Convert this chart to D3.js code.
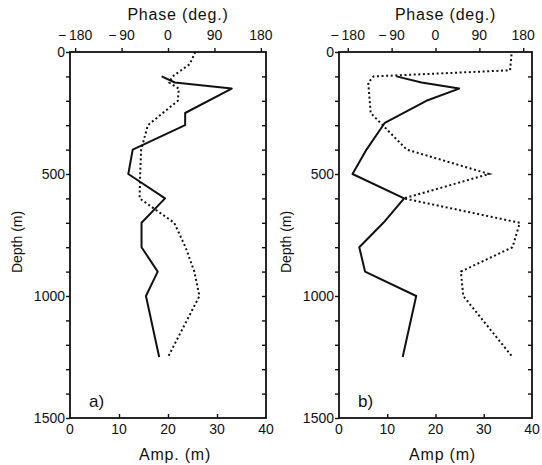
<!DOCTYPE html>
<html>
<head>
<meta charset="utf-8">
<script src="https://cdn.jsdelivr.net/npm/d3@7"></script>
<style>
    body { margin: 0; background: #fff; }
    text { font-family: "Liberation Sans", Arial, sans-serif; fill: #111; }
</style>
</head>
<body>
<div id="chart"></div>
<script>
// Depth levels (m) and values
// Panel a
var aAmpDepth = [100, 125, 150, 250, 300, 400, 500, 600, 700, 800, 900, 1000, 1250];
var aAmp = [18.7, 21.4, 33, 23.5, 23.5, 12.8, 11.9, 19.4, 14.6, 14.6, 17.9, 15.5, 18.2];
var aPhsDepth = [0, 50, 100, 125, 150, 200, 300, 400, 500, 600, 700, 800, 900, 1000, 1250];
var aPhs = [53, 42, 9, 2, 21, 19, -39, -52, -54, -55, 12, 34, 51, 61, 0];

// Panel b
var bAmpDepth = [100, 125, 150, 200, 290, 400, 500, 600, 700, 800, 900, 1000, 1250];
var bAmp = [11.9, 17.1, 24.9, 18.1, 9.5, 5.7, 2.8, 13.5, 9.2, 4.2, 5.4, 16, 13.2];
var bPhsDepth = [10, 75, 100, 125, 250, 400, 500, 600, 700, 800, 900, 1000, 1250];
var bPhs = [156, 153, -127, -138, -133, -59, 110, -65, 173, 158, 52, 57, 158];

// Tick values
var depthTicks = [0, 500, 1000, 1500];
var ampTicks = [0, 10, 20, 30, 40];
var phsTicks = [-180, -90, 0, 90, 180];

// Set up SVG
var svgWdt = 542;
var svgHgt = 465;

var svg = d3.select("#chart").append("svg")
    .attr("width", svgWdt)
    .attr("height", svgHgt);

// Shared depth scale
var yScale = d3.scaleLinear().domain([0, 1500]).range([52, 418]);

// Minus sign with a little gap, like the original lettering
function phsFmt(d) {
    return d < 0 ? "\u2212" + "\u2009" + Math.abs(d) : "" + d;
}

function drawPanel(p) {
    var xAmp = d3.scaleLinear().domain([0, 40]).range([p.left, p.right]);
    var xPhs = d3.scaleLinear().domain([-p.phsMax, p.phsMax]).range([p.left, p.right]);

    var grp = svg.append("g");

    // Minor depth ticks every 100 m
    var minor = d3.range(0, 1501, 100);

    // Left axis (ticks outward)
    grp.append("g")
        .attr("transform", `translate(${p.left}, 0)`)
        .call(d3.axisLeft(yScale).tickValues(minor).tickSize(4).tickFormat(""))
        .call(g => g.select(".domain").remove());
    // Right axis (ticks inward)
    grp.append("g")
        .attr("transform", `translate(${p.right}, 0)`)
        .call(d3.axisLeft(yScale).tickValues(minor.slice(1, -1)).tickSize(4).tickFormat(""))
        .call(g => g.select(".domain").remove());
    // Top phase axis
    grp.append("g")
        .attr("transform", `translate(0, ${yScale(0)})`)
        .call(d3.axisTop(xPhs).tickValues(phsTicks).tickSize(4).tickFormat(""))
        .call(g => g.select(".domain").remove());
    // Bottom amp axis (ticks inward)
    grp.append("g")
        .attr("transform", `translate(0, ${yScale(1500)})`)
        .call(d3.axisTop(xAmp).tickValues(ampTicks.slice(1, -1)).tickSize(4).tickFormat(""))
        .call(g => g.select(".domain").remove());

    grp.selectAll(".tick line").attr("stroke", "#111").attr("stroke-width", 1.4);

    // Frame
    grp.append("rect")
        .attr("x", p.left)
        .attr("y", yScale(0))
        .attr("width", p.right - p.left)
        .attr("height", yScale(1500) - yScale(0))
        .attr("fill", "none")
        .attr("stroke", "#111")
        .attr("stroke-width", 1.8);

    // Depth tick labels
    grp.selectAll(".dlbl").data(depthTicks)
        .enter()
        .append("text")
            .attr("x", p.left - 5)
            .attr("y", d => yScale(d) + 5)
            .attr("text-anchor", "end")
            .attr("font-size", 14)
            .text(d => d);

    // Phase tick labels
    grp.selectAll(".plbl").data(phsTicks)
        .enter()
        .append("text")
            .attr("x", d => xPhs(d))
            .attr("y", 40)
            .attr("text-anchor", "middle")
            .attr("font-size", 14)
            .text(phsFmt);

    // Amp tick labels
    grp.selectAll(".albl").data(ampTicks)
        .enter()
        .append("text")
            .attr("x", d => xAmp(d))
            .attr("y", 434)
            .attr("text-anchor", "middle")
            .attr("font-size", 14)
            .text(d => d);

    // Axis titles
    grp.append("text")
        .attr("x", (p.left + p.right) / 2 + 10)
        .attr("y", 20)
        .attr("text-anchor", "middle")
        .attr("font-size", 16)
        .attr("letter-spacing", 0.8)
        .text("Phase (deg.)");
    grp.append("text")
        .attr("x", (p.left + p.right) / 2 + 7)
        .attr("y", 460)
        .attr("text-anchor", "middle")
        .attr("font-size", 16)
        .attr("letter-spacing", 0.8)
        .text(p.ampLbl);
    grp.append("text")
        .attr("transform", `translate(${p.left - 48}, 242) rotate(-90)`)
        .attr("text-anchor", "middle")
        .attr("font-size", 14)
        .text("Depth (m)");

    // Panel label
    grp.append("text")
        .attr("x", p.left + 19)
        .attr("y", 407)
        .attr("font-size", 17)
        .text(p.tag);

    // Amplitude (solid)
    var ampLine = d3.line()
        .x(d => xAmp(d[1]))
        .y(d => yScale(d[0]));
    grp.append("path")
        .datum(d3.zip(p.ampDepth, p.amp))
        .attr("d", ampLine)
        .attr("fill", "none")
        .attr("stroke", "#111")
        .attr("stroke-width", 2)
        .attr("stroke-linejoin", "round");

    // Phase (dotted)
    var phsLine = d3.line()
        .x(d => xPhs(d[1]))
        .y(d => yScale(d[0]));
    grp.append("path")
        .datum(d3.zip(p.phsDepth, p.phs))
        .attr("d", phsLine)
        .attr("fill", "none")
        .attr("stroke", "#111")
        .attr("stroke-width", 2)
        .attr("stroke-dasharray", "2,2.6");
}

drawPanel({
    left: 70, right: 266, phsMax: 190, tag: "a)", ampLbl: "Amp. (m)",
    ampDepth: aAmpDepth, amp: aAmp, phsDepth: aPhsDepth, phs: aPhs
});

drawPanel({
    left: 339, right: 532, phsMax: 198, tag: "b)", ampLbl: "Amp (m)",
    ampDepth: bAmpDepth, amp: bAmp, phsDepth: bPhsDepth, phs: bPhs
});
</script>
</body>
</html>
